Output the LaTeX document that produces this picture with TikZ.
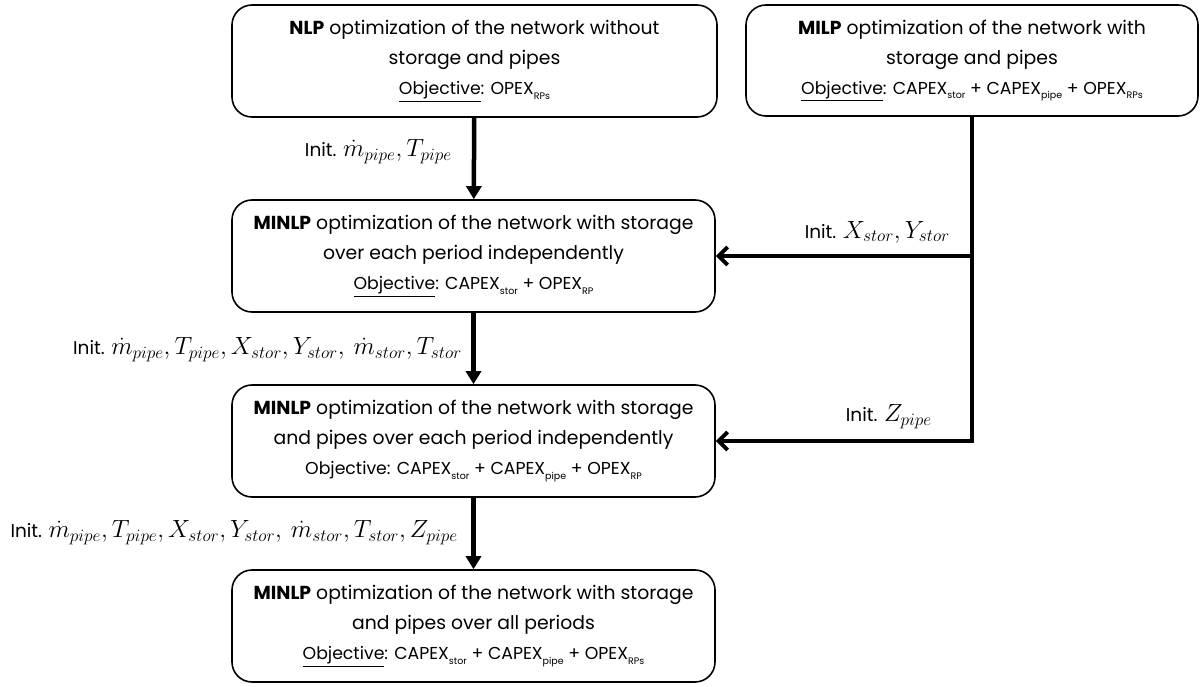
\documentclass[tikz,border=0pt]{standalone}
\usepackage{fontspec}
\setmainfont{Poppins}
\usetikzlibrary{arrows.meta}
\DeclareMathSizes{18.5}{24}{17.5}{13}
\newcommand{\lowsub}[1]{\raisebox{-0.45ex}{\fontsize{9.5}{10}\selectfont #1}}
\newcommand{\objline}[1]{{\fontsize{17.3}{30}\selectfont #1}}
\begin{document}
\begin{tikzpicture}[x=1pt,y=-1pt,
  box/.style={draw,line width=1.6pt,rounded corners=20pt,align=center,inner sep=0pt,
    font={\fontsize{18.8}{30}\selectfont}},
  lab/.style={anchor=east,inner sep=0pt,font={\fontsize{18.5}{20}\selectfont}},
  varrow/.style={line width=4.5pt,-{Triangle[width=15pt,length=13pt]}},
  harrow/.style={line width=4.5pt,-{Straight Barb[width=18pt,length=9pt,line width=4pt]}}]
\useasboundingbox (0,0) rectangle (1200,687);
\node[box,minimum width=485pt,minimum height=112pt] (nlp) at (474.5,61)
  {\textbf{NLP} optimization of the network without\\storage and pipes\\
   \objline{\underline{Objective}: OPEX\lowsub{RPs}}};
\node[box,minimum width=452pt,minimum height=111pt] (milp) at (972,60.5)
  {\textbf{MILP} optimization of the network with\\storage and pipes\\
   \objline{\underline{Objective}: CAPEX\lowsub{stor} + CAPEX\lowsub{pipe} + OPEX\lowsub{RPs}}};
\node[box,minimum width=483pt,minimum height=112pt] (m1) at (473.5,256)
  {\textbf{MINLP} optimization of the network with storage\\over each period independently\\
   \objline{\underline{Objective}: CAPEX\lowsub{stor} + OPEX\lowsub{RP}}};
\node[box,minimum width=483pt,minimum height=112pt] (m2) at (473.5,441)
  {\textbf{MINLP} optimization of the network with storage\\and pipes over each period independently\\
   \objline{Objective: CAPEX\lowsub{stor} + CAPEX\lowsub{pipe} + OPEX\lowsub{RP}}};
\node[box,minimum width=483pt,minimum height=112pt] (m3) at (473.5,626)
  {\textbf{MINLP} optimization of the network with storage\\and pipes over all periods\\
   \objline{\underline{Objective}: CAPEX\lowsub{stor} + CAPEX\lowsub{pipe} + OPEX\lowsub{RPs}}};
\draw[varrow] (nlp) -- (m1);
\draw[varrow] (m1) -- (m2);
\draw[varrow] (m2) -- (m3);
\draw[harrow] (milp.south |- m1.east) -- (m1.east);
\draw[harrow] (milp.south) |- (m2.east);
\node[lab] (l1) at (452,152) {Init. $\dot{m}_{pipe},T_{pipe}$};
\node[lab] (l2) at (950,232) {Init. $X_{stor},Y_{stor}$};
\node[lab] (l3) at (932,417) {Init. $Z_{pipe}$};
\node[lab] (l4) at (462,350) {Init. $\dot{m}_{pipe},T_{pipe},X_{stor},Y_{stor},\ \dot{m}_{stor},T_{stor}$};
\node[lab] (l5) at (458,533) {Init. $\dot{m}_{pipe},T_{pipe},X_{stor},Y_{stor},\ \dot{m}_{stor},T_{stor},Z_{pipe}$};
\end{tikzpicture}
\end{document}
